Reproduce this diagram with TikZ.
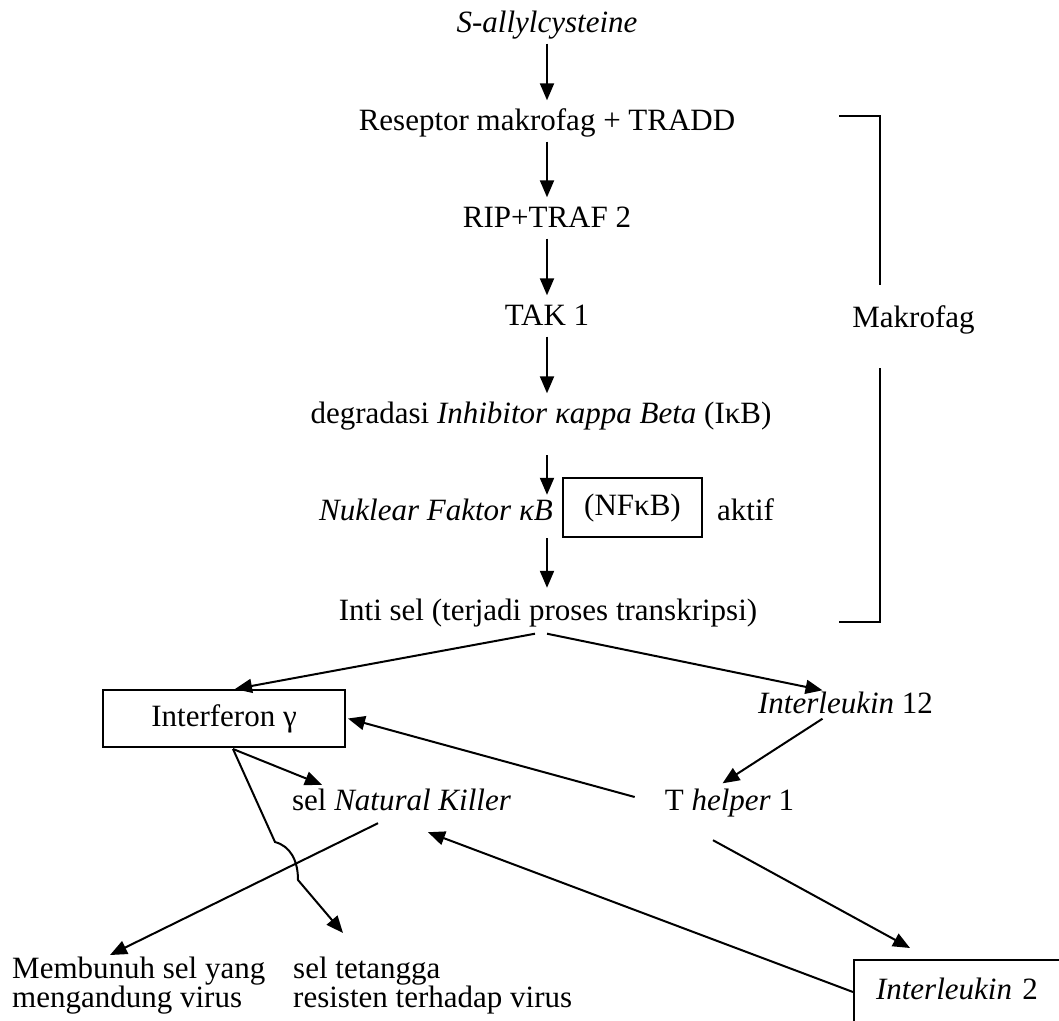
\documentclass[tikz,border=0pt]{standalone}
\usepackage{fontspec}
\setmainfont{Liberation Serif}
\usetikzlibrary{arrows.meta}
\begin{document}
\begin{tikzpicture}[x=1pt,y=-1pt,
  every node/.style={font=\fontsize{31}{29}\selectfont, inner sep=0pt},
  tx/.style={text height=22pt, text depth=7pt},
  arr/.style={line width=2pt, -{Triangle[length=17pt,width=14pt]}},
  ln/.style={line width=2pt},
  boxnode/.style={draw, line width=2pt}]
\useasboundingbox (0,0) rectangle (1059,1020);
\clip (0,0) rectangle (1059,1020);

% main column
\node[tx] (sa) at (547,25) {\itshape S-allylcysteine};
\node[tx] (rec) at (547,123) {Reseptor makrofag + TRADD};
\node[tx] (rip) at (547,220) {RIP+TRAF 2};
\node[tx] (tak) at (547,318) {TAK 1};
\node[tx] (deg) at (541,416) {degradasi \textit{Inhibitor κappa Beta} (IκB)};
\node[tx, anchor=east] (nuk) at (553,513) {\textit{Nuklear Faktor κB}};
\node[tx, boxnode, minimum width=139pt, minimum height=59pt] (nfkb) at (632.5,507.5) {(NFκB)};
\node[tx, anchor=west] (akt) at (717,513) {aktif};
\node[tx] (inti) at (548,613) {Inti sel (terjadi proses transkripsi)};
\node[tx] (mak) at (913.5,320) {Makrofag};

% lower part
\node[tx, boxnode, minimum width=242pt, minimum height=57pt] (ifn) at (224,718.5) {Interferon γ};
\node[tx] (il12) at (845.5,706) {\textit{Interleukin} 12};
\node[tx] (nk) at (401.5,803) {sel \textit{Natural Killer}};
\node[tx] (th1) at (729.5,803) {T \textit{helper} 1};
\node[anchor=north west, align=left] (kill) at (12,957) {Membunuh sel yang\\mengandung virus};
\node[anchor=north west, align=left] (tet) at (293,957) {sel tetangga\\resisten terhadap virus};
\node[tx, boxnode, anchor=north west, text width=190pt, align=left, inner xsep=22pt, minimum height=64pt] (il2) at (853,959) {\textit{Interleukin} 2};

% vertical arrows
\draw[arr, shorten <=4pt, shorten >=8pt] (sa) -- (rec);
\draw[arr, shorten <=4pt, shorten >=8pt] (rec) -- (rip);
\draw[arr, shorten <=4pt, shorten >=8pt] (rip) -- (tak);
\draw[arr, shorten <=4pt, shorten >=8pt] (tak.south) -- (tak.south |- deg.north);
\draw[arr, shorten <=24.5pt, shorten >=3.5pt] (tak.south |- deg.south) -- (tak.south |- nuk.north);
\draw[arr, shorten <=10.5pt, shorten >=10.5pt] (tak.south |- nuk.south) -- (tak.south |- inti.north);

% bracket
\draw[ln] (839,116) -- (880,116) -- (880,285);
\draw[ln] (880,368) -- (880,622) -- (839,622);

% diagonal connectors
\draw[arr] ([shift={(-13,6)}]inti.south) -- ([shift={(11,0)}]ifn.north);
\draw[arr] ([shift={(-1,6)}]inti.south) -- ([shift={(-23,-1)}]il12.north);
\draw[arr] ([shift={(-23,-2)}]il12.south) -- ([shift={(-7,-5)}]th1.north);
\draw[arr] ([shift={(-30,-6)}]th1.west) -- ([shift={(2,0)}]ifn.east);
\draw[arr] ([shift={(9,1)}]ifn.south) -- ([shift={(30,-3.5)}]nk.north west);
\draw[arr] ([shift={(9,1)}]ifn.south) -- (275,842) .. controls (290,846) and (298,860) .. (298,880) -- ([shift={(50,-24)}]tet.north west);
\draw[arr] ([shift={(-23.5,5.5)}]nk.south) -- ([shift={(98,-2)}]kill.north west);
\draw[arr] (il2.west) -- ([shift={(26.5,14.5)}]nk.south);
\draw[arr] ([shift={(-16.5,22.5)}]th1.south) -- ([shift={(57,-11)}]il2.north west);
\end{tikzpicture}
\end{document}
